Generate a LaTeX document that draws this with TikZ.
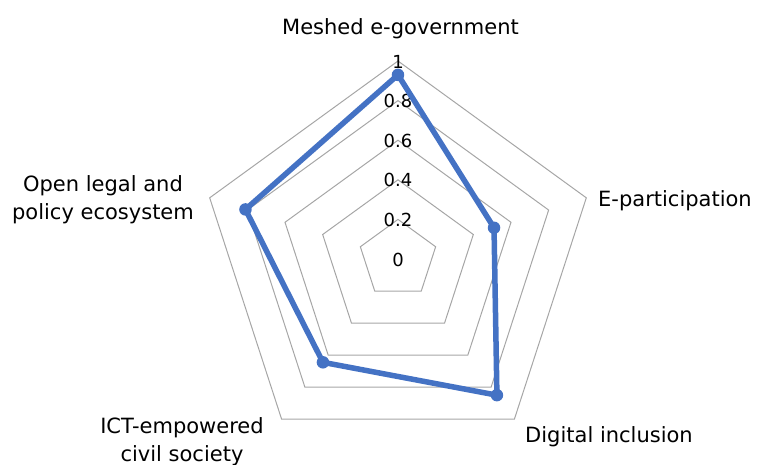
\documentclass[tikz,border=0pt]{standalone}
\usepackage{fontspec}
\setmainfont{DejaVu Sans}
\definecolor{serieblue}{RGB}{68,114,196}
\definecolor{gridgray}{RGB}{166,166,166}
\tikzset{
  gridline/.style={gridgray,line width=1pt,line join=miter},
  axislabel/.style={font=\fontsize{21}{28}\selectfont,align=center,inner sep=0pt},
  ticklabel/.style={font=\fontsize{18}{20}\selectfont,inner sep=0pt},
  dot/.style={circle,fill=serieblue,inner sep=0pt,minimum size=12.5pt},
}
\begin{document}
\begin{tikzpicture}[x=1pt,y=1pt]
  \useasboundingbox (-398,-205) rectangle (365,259);
  % pentagon grid, one ring per 0.2
  \foreach \r in {1,...,5}
    \draw[gridline] (90:\r*39.6) -- (18:\r*39.6) -- (-54:\r*39.6)
      -- (-126:\r*39.6) -- (162:\r*39.6) -- cycle;
  \foreach \t/\lab in {0/0,1/0.2,2/0.4,3/0.6,4/0.8,5/1}
    \node[ticklabel] (t\t) at (0,\t*39.6-0.5) {\lab};
  % series
  \foreach \i/\v in {0/0.93,1/0.51,2/0.85,3/0.645,4/0.81}
    \coordinate (p\i) at (90-72*\i:\v*198);
  \draw[serieblue,line width=5.5pt,line join=round] (p0) -- (p1) -- (p2) -- (p3) -- (p4) -- cycle;
  \foreach \i in {0,...,4}
    \node[dot] (d\i) at (p\i) {};
  % category labels
  \node[axislabel,anchor=base] (meshed) at (2.5,224) {Meshed e-government};
  \node[axislabel,anchor=base west] (epart) at (200,53) {E-participation};
  \node[axislabel] (digital) at (211,-178) {Digital inclusion};
  \node[axislabel] (ict) at (-216,-183) {ICT-empowered\\civil society};
  \node[axislabel] (legal) at (-295,59) {Open legal and\\policy ecosystem};
\end{tikzpicture}
\end{document}
